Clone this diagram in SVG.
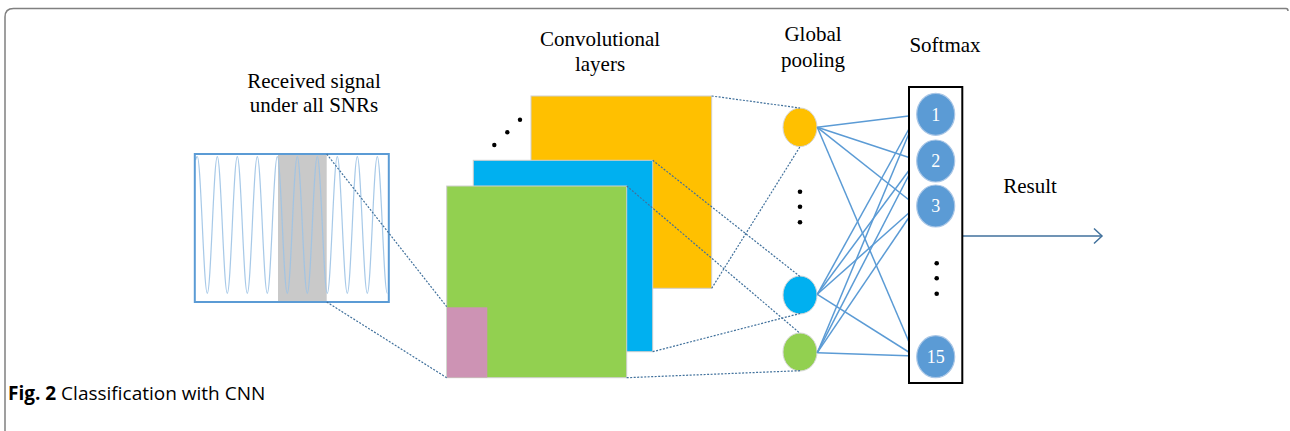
<svg xmlns="http://www.w3.org/2000/svg" width="1290" height="431" viewBox="0 0 1290 431">
<style>
.lbl{font-family:"Liberation Serif","Times New Roman",serif;font-size:21px;fill:#000;text-anchor:middle}
.num{font-family:"Liberation Serif","Times New Roman",serif;font-size:18px;fill:#fff;text-anchor:middle}
.dot{stroke:#41719c;stroke-width:1.2;stroke-dasharray:2 1.5;fill:none}
.net{stroke:#5b9bd5;stroke-width:1.5;fill:none}
.sq{stroke:#cfcfcf;stroke-width:1}
.sm{fill:#5b9bd5;stroke:#a9c6e6;stroke-width:1.2}
.pool{stroke:#d6d6d6;stroke-width:1}
</style>
<rect width="1290" height="431" fill="#fff"/>
<path d="M5,431 V17 Q5,8.5 13.5,8.5 H1286 Q1288,8.5 1288,11" fill="none" stroke="#808080" stroke-width="1.5"/>

<g id="signal">
<rect x="278" y="154" width="48.7" height="148" fill="#c9c9c9"/>
<path d="M197.3,156.7 c3.63,0 6.37,136.6 10,136.6 c3.63,0 6.37,-136.6 10,-136.6 c3.63,0 6.37,136.6 10,136.6 c3.63,0 6.37,-136.6 10,-136.6 c3.63,0 6.37,136.6 10,136.6 c3.63,0 6.37,-136.6 10,-136.6 c3.63,0 6.37,136.6 10,136.6 c3.63,0 6.37,-136.6 10,-136.6 c3.63,0 6.37,136.6 10,136.6 c3.63,0 6.37,-136.6 10,-136.6 c3.63,0 6.37,136.6 10,136.6 c3.63,0 6.37,-136.6 10,-136.6 c3.63,0 6.37,136.6 10,136.6 c3.63,0 6.37,-136.6 10,-136.6 c3.63,0 6.37,136.6 10,136.6 c3.63,0 6.37,-136.6 10,-136.6 c3.63,0 6.37,136.6 10,136.6 c3.63,0 6.37,-136.6 10,-136.6 c3.63,0 6.37,136.6 10,136.6" fill="none" stroke="#9dc3e6" stroke-width="1.2" opacity="0.9"/>
<path d="M195.5,160 Q196.3,156.7 197.3,156.7" fill="none" stroke="#9dc3e6" stroke-width="1.2"/>
<rect x="194.8" y="154" width="194" height="148" fill="none" stroke="#5b9bd5" stroke-width="2"/>
<text class="lbl" x="314" y="88">Received signal</text>
<text class="lbl" x="314" y="112">under all SNRs</text>
</g>

<g id="conv">
<rect class="sq" x="531" y="96" width="180.7" height="192.3" fill="#ffc000"/>
<rect class="sq" x="473.3" y="160.3" width="179.4" height="191.4" fill="#00b0f0"/>
<rect class="sq" x="446.7" y="186" width="180" height="191.7" fill="#92d050"/>
<rect x="447" y="307.3" width="40.3" height="70.2" fill="#cd93b4"/>
<circle cx="494.3" cy="145" r="2.2" fill="#000"/>
<circle cx="507.3" cy="132.3" r="2.2" fill="#000"/>
<circle cx="520" cy="119.7" r="2.2" fill="#000"/>
<text class="lbl" x="600" y="46">Convolutional</text>
<text class="lbl" x="600" y="71">layers</text>
</g>

<g id="pooling">
<ellipse class="pool" cx="800" cy="127.3" rx="17" ry="19.3" fill="#ffc000"/>
<ellipse class="pool" cx="800" cy="295" rx="17" ry="19" fill="#00b0f0"/>
<ellipse class="pool" cx="800" cy="352" rx="17" ry="19" fill="#92d050"/>
<circle cx="800" cy="191.7" r="2.3" fill="#000"/>
<circle cx="800" cy="206.7" r="2.3" fill="#000"/>
<circle cx="800" cy="222.3" r="2.3" fill="#000"/>
<text class="lbl" x="813" y="41">Global</text>
<text class="lbl" x="813" y="67">pooling</text>
</g>

<g id="connectors">
<line class="dot" x1="326.7" y1="154" x2="446.7" y2="306.7"/>
<line class="dot" x1="326.7" y1="302" x2="446.7" y2="377.7"/>
<line class="dot" x1="711.7" y1="96" x2="800" y2="108"/>
<line class="dot" x1="711.7" y1="288.3" x2="800" y2="146.7"/>
<line class="dot" x1="652.7" y1="160.3" x2="800" y2="276.5"/>
<line class="dot" x1="652.7" y1="351.7" x2="800" y2="313.5"/>
<line class="dot" x1="626.7" y1="186" x2="800" y2="333.3"/>
<line class="dot" x1="626.7" y1="377.7" x2="800" y2="370.7"/>
<line class="net" x1="817.3" y1="127.3" x2="916.7" y2="115"/>
<line class="net" x1="817.3" y1="127.3" x2="916.7" y2="160"/>
<line class="net" x1="817.3" y1="127.3" x2="916.7" y2="206"/>
<line class="net" x1="817.3" y1="127.3" x2="915" y2="356"/>
<line class="net" x1="817.3" y1="294.3" x2="916.7" y2="115"/>
<line class="net" x1="817.3" y1="294.3" x2="916.7" y2="160"/>
<line class="net" x1="817.3" y1="294.3" x2="916.7" y2="206"/>
<line class="net" x1="817.3" y1="294.3" x2="915" y2="356"/>
<line class="net" x1="817.3" y1="352.7" x2="916.7" y2="115"/>
<line class="net" x1="817.3" y1="352.7" x2="916.7" y2="160"/>
<line class="net" x1="817.3" y1="352.7" x2="916.7" y2="206"/>
<line class="net" x1="817.3" y1="352.7" x2="915" y2="356"/>
<line x1="962.3" y1="236" x2="1102" y2="236" stroke="#41719c" stroke-width="1.5"/>
<path d="M1094,228.5 L1102,236 L1094,243.5" fill="none" stroke="#41719c" stroke-width="1.5"/>
</g>

<g id="softmax">
<rect x="909" y="87" width="53.3" height="296" fill="#fff" stroke="#000" stroke-width="2"/>
<ellipse class="sm" cx="935.7" cy="114.3" rx="19" ry="21"/>
<ellipse class="sm" cx="935.7" cy="161" rx="19" ry="21"/>
<ellipse class="sm" cx="935.7" cy="206" rx="19" ry="21"/>
<ellipse class="sm" cx="935.7" cy="356.7" rx="19" ry="21"/>
<text class="num" x="935.7" y="120.5">1</text>
<text class="num" x="935.7" y="167.2">2</text>
<text class="num" x="935.7" y="212.2">3</text>
<text class="num" x="935.7" y="362.9">15</text>
<circle cx="936.7" cy="263.3" r="2.3" fill="#000"/>
<circle cx="936.7" cy="278.3" r="2.3" fill="#000"/>
<circle cx="936.7" cy="293.7" r="2.3" fill="#000"/>
<text class="lbl" x="945" y="52">Softmax</text>
</g>

<g id="result">
<text class="lbl" x="1030" y="193">Result</text>
</g>

<g id="caption">
<text x="8" y="400" style="font-family:'Open Sans','Noto Sans',sans-serif;font-size:19px;fill:#000"><tspan font-weight="bold">Fig. 2</tspan> Classification with CNN</text>
</g>
</svg>
